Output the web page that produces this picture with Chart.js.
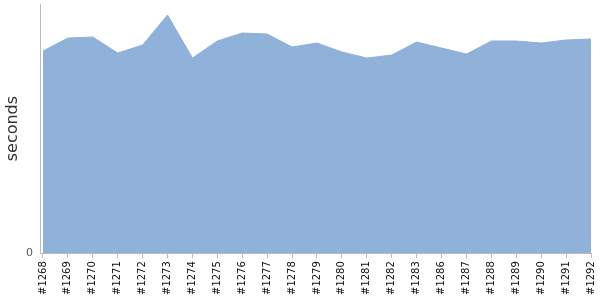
<!DOCTYPE html>
<html>
<head>
<meta charset="utf-8">
<script src="https://cdn.jsdelivr.net/npm/chart.js@4"></script>
<style>
  html, body { margin: 0; padding: 0; background: #fff; }
  #wrap { width: 600px; height: 300px; }
</style>
</head>
<body>
<div id="wrap"><canvas id="chart" width="600" height="300"></canvas></div>
<script>
'use strict';

// build labels and durations
const builds = ['#1268', '#1269', '#1270', '#1271', '#1272', '#1273', '#1274', '#1275',
                '#1276', '#1277', '#1278', '#1279', '#1280', '#1281', '#1282', '#1283',
                '#1286', '#1287', '#1288', '#1289', '#1290', '#1291', '#1292'];
const durations = [202, 215, 216, 200, 208, 238, 195, 212,
                   220, 219, 206, 210, 201, 195, 198, 211,
                   205, 199, 212, 212, 210, 213, 214];
const yMax = 249;

let points = [];
for (let i = 0; i < durations.length; i++) {
    points.push({x: i, y: durations[i]});
}

new Chart(document.getElementById('chart'), {
    type: 'line',
    data: {
        datasets: [{
            data: points,
            fill: 'origin',
            backgroundColor: '#8fb1da',
            borderColor: '#8fb1da',
            borderWidth: 1,
            pointRadius: 0,
            tension: 0
        }]
    },
    options: {
        responsive: false,
        animation: false,
        layout: {padding: {top: 4, right: 9, left: 0, bottom: 2}},
        plugins: {
            legend: {display: false},
            tooltip: {enabled: false}
        },
        scales: {
            x: {
                type: 'linear',
                min: -0.12,
                max: builds.length - 1,
                grid: {drawOnChartArea: false, color: '#bbb', tickLength: 5},
                border: {color: '#bbb'},
                afterFit: function(scale) {
                    scale.paddingLeft = 0;
                    scale.paddingRight = 0;
                },
                ticks: {
                    stepSize: 1,
                    includeBounds: false,
                    autoSkip: false,
                    maxRotation: 90,
                    minRotation: 90,
                    color: '#111',
                    font: {family: 'DejaVu Sans', size: 10},
                    callback: function(value) {
                        return builds[value] || '';
                    }
                }
            },
            y: {
                min: 0,
                max: yMax,
                grid: {display: false, drawTicks: false},
                border: {color: '#bbb'},
                afterFit: function(scale) {
                    scale.width = 40;
                    scale.paddingTop = 0;
                    scale.paddingBottom = 0;
                },
                title: {
                    display: true,
                    text: 'seconds',
                    color: '#333',
                    font: {family: 'DejaVu Sans', size: 16},
                    padding: {top: 3, bottom: 4}
                },
                ticks: {
                    stepSize: yMax,
                    padding: 7,
                    color: '#555',
                    font: {family: 'DejaVu Sans', size: 11},
                    callback: function(value) {
                        return value === 0 ? '0' : '';
                    }
                }
            }
        }
    }
});
</script>
</body>
</html>
